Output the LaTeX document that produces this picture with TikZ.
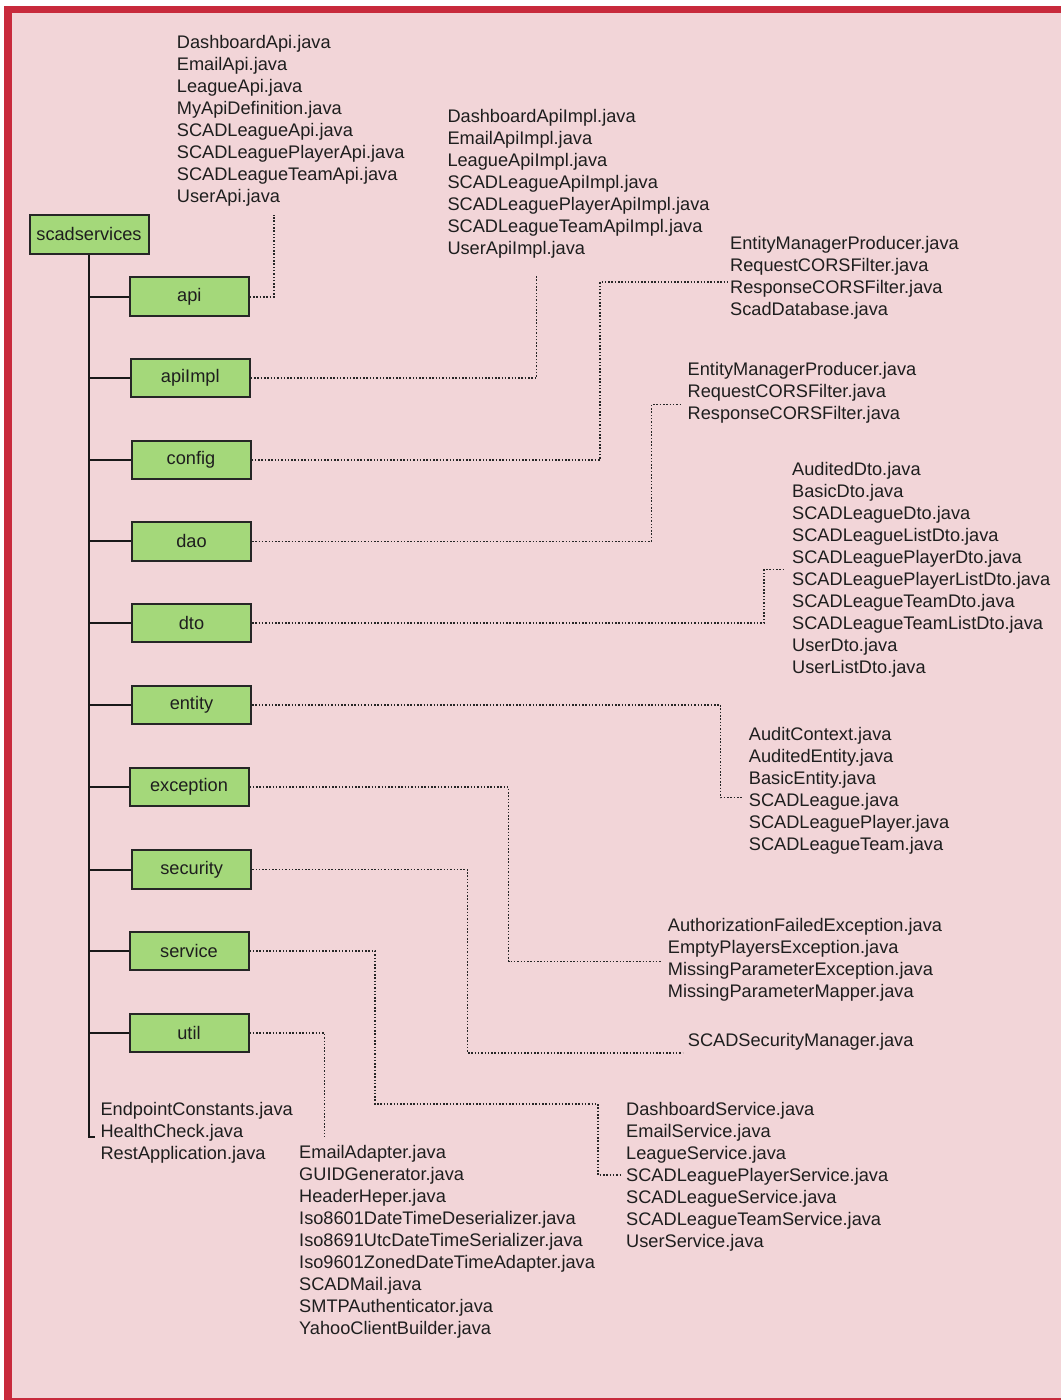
\documentclass[tikz,border=0pt]{standalone}
\usepackage{fontspec}
\setmainfont{Liberation Sans}

\definecolor{frame}{RGB}{200,42,60}
\definecolor{paper}{RGB}{242,213,216}
\definecolor{folderfill}{RGB}{164,216,122}
\definecolor{ink}{RGB}{30,30,30}

\tikzset{
  folder/.style={draw=black!85, line width=2pt, fill=folderfill,
    minimum width=119pt, minimum height=38.5pt, inner sep=0pt,
    font=\fontsize{18.2}{22}\selectfont, text=ink},
  file/.style={inner sep=0pt, anchor=base west,
    font=\fontsize{18.2}{22}\selectfont, text=ink},
  branch/.style={draw=black!90, line width=2pt},
  dotlink/.style={draw=black!85, line width=1.6pt, dash pattern=on 1.5pt off 1.8pt},
}

% one column of file names: prefix, left x, first baseline, names
\newcommand\filecolumn[4]{%
  \foreach \f [count=\i from 0] in {#4}
    \node[file] (#1-\i) at (#2,{#3+22*\i}) {\f};%
}

\begin{document}
\begin{tikzpicture}[x=1pt,y=-1pt]
  \useasboundingbox (0,0) rectangle (1061,1400);

  % paper with a frame on the top, left and bottom edges
  \fill[white] (0,0) rectangle (1061,1400);
  \fill[paper] (11.5,13.3) rectangle (1061,1397.5);
  \fill[frame] (3.5,5.5) rectangle (1061,13.3);
  \fill[frame] (3.5,5.5) rectangle (11.5,1400);
  \fill[frame] (3.5,1397.5) rectangle (1061,1400);

  % package folders
  \node[folder] (root)      at (89,234.3)    {scadservices};
  \node[folder] (api)       at (189.3,296.7) {api};
  \node[folder] (apiImpl)   at (190.3,378)   {apiImpl};
  \node[folder] (config)    at (191,460)     {config};
  \node[folder] (dao)       at (191.5,541.3) {dao};
  \node[folder] (dto)       at (191.5,623)   {dto};
  \node[folder] (entity)    at (191.5,705)   {entity};
  \node[folder] (exception) at (189,787)     {exception};
  \node[folder] (security)  at (191.7,869.5) {security};
  \node[folder] (service)   at (189,951)     {service};
  \node[folder] (util)      at (189,1033)    {util};

  % file names
  \filecolumn{apif}{176.7}{48.5}{DashboardApi.java,EmailApi.java,LeagueApi.java,MyApiDefinition.java,SCADLeagueApi.java,SCADLeaguePlayerApi.java,SCADLeagueTeamApi.java,UserApi.java}
  \filecolumn{implf}{447.3}{122.6}{DashboardApiImpl.java,EmailApiImpl.java,LeagueApiImpl.java,SCADLeagueApiImpl.java,SCADLeaguePlayerApiImpl.java,SCADLeagueTeamApiImpl.java,UserApiImpl.java}
  \filecolumn{cfgf}{730}{249.3}{EntityManagerProducer.java,RequestCORSFilter.java,ResponseCORSFilter.java,ScadDatabase.java}
  \filecolumn{daof}{687.5}{375.7}{EntityManagerProducer.java,RequestCORSFilter.java,ResponseCORSFilter.java}
  \filecolumn{dtof}{792}{475}{AuditedDto.java,BasicDto.java,SCADLeagueDto.java,SCADLeagueListDto.java,SCADLeaguePlayerDto.java,SCADLeaguePlayerListDto.java,SCADLeagueTeamDto.java,SCADLeagueTeamListDto.java,UserDto.java,UserListDto.java}
  \filecolumn{entf}{748.7}{740}{AuditContext.java,AuditedEntity.java,BasicEntity.java,SCADLeague.java,SCADLeaguePlayer.java,SCADLeagueTeam.java}
  \filecolumn{excf}{667.7}{931}{AuthorizationFailedException.java,EmptyPlayersException.java,MissingParameterException.java,MissingParameterMapper.java}
  \filecolumn{secf}{687.7}{1046.7}{SCADSecurityManager.java}
  \filecolumn{svcf}{626}{1115}{DashboardService.java,EmailService.java,LeagueService.java,SCADLeaguePlayerService.java,SCADLeagueService.java,SCADLeagueTeamService.java,UserService.java}
  \filecolumn{utilf}{299}{1158.3}{EmailAdapter.java,GUIDGenerator.java,HeaderHeper.java,Iso8601DateTimeDeserializer.java,Iso8691UtcDateTimeSerializer.java,Iso9601ZonedDateTimeAdapter.java,SCADMail.java,SMTPAuthenticator.java,YahooClientBuilder.java}
  \filecolumn{rootf}{100.4}{1115}{EndpointConstants.java,HealthCheck.java,RestApplication.java}

  % tree trunk and branches
  \coordinate (leaf) at (95,1136.5);
  \draw[branch] (root.south) |- (leaf);
  \foreach \b in {api,apiImpl,config,dao,dto,entity,exception,security,service,util}
    \draw[branch] (root.south |- \b.west) -- (\b.west);

  % dotted links from each folder to its files
  \coordinate (apiEnd)  at (274,215);
  \coordinate (implEnd) at (536.5,275);
  \coordinate (cfgEnd)  at (729,282);
  \coordinate (daoEnd)  at (682.5,404.5);
  \coordinate (dtoEnd)  at (784,569.5);
  \coordinate (entEnd)  at (743,797.5);
  \coordinate (excEnd)  at (661,961.5);
  \coordinate (secEnd)  at (682.5,1053);
  \coordinate (svcEnd)  at (622,1175);
  \coordinate (utilEnd) at (324.5,1137);

  \draw[dotlink] (api.east) -| (apiEnd);
  \draw[dotlink] (apiImpl.east) -| (implEnd);
  \draw[dotlink] (config.east) -| (600,282) -- (cfgEnd);
  \draw[dotlink] (dao.east) -| (651.5,404.5) -- (daoEnd);
  \draw[dotlink] (dto.east) -| (764,569.5) -- (dtoEnd);
  \draw[dotlink] (entity.east) -| (720.5,797.5) -- (entEnd);
  \draw[dotlink] (exception.east) -| (508.5,961.5) -- (excEnd);
  \draw[dotlink] (security.east) -| (467.5,1053) -- (secEnd);
  \draw[dotlink] (service.east) -| (375,1104) -| (598,1175) -- (svcEnd);
  \draw[dotlink] (util.east) -| (utilEnd);

  % open right edge of the sheet
  \fill[paper] (1052,13.3) rectangle (1061,1397.5);
\end{tikzpicture}
\end{document}
